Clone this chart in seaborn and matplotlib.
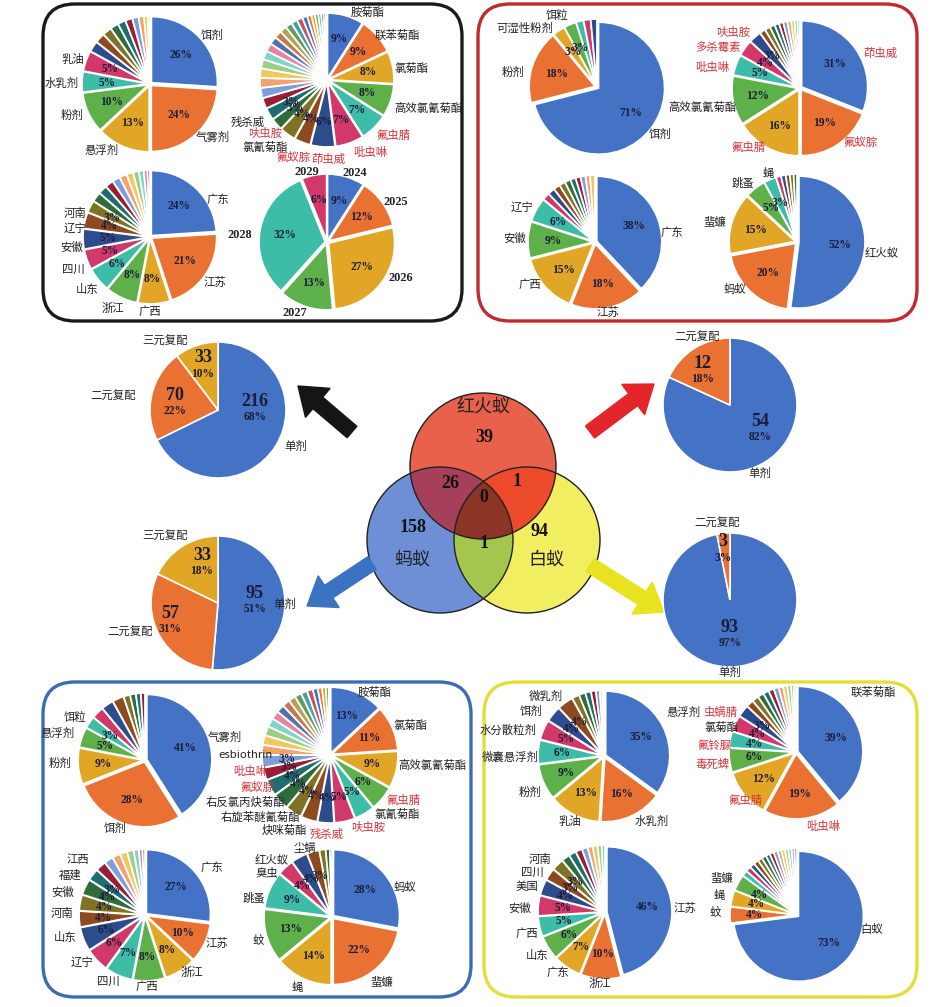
import numpy as np
import matplotlib.pyplot as plt
import seaborn as sns
from matplotlib.colors import to_rgba
from matplotlib.patches import FancyBboxPatch, Circle, FancyArrow

sns.set_style("white")
plt.rcParams['font.family'] = ['Noto Sans CJK SC', 'DejaVu Sans']

# ---------------- data ----------------
# black box (all products)
bk_form_names = ['饵剂', '气雾剂', '悬浮剂', '粉剂', '水乳剂', '乳油']
bk_form_vals = [26, 24, 13, 10, 5, 5]
bk_form_rest = [2.6, 2.4, 2.2, 2.0, 1.9, 1.7, 1.5, 1.3, 0.9, 0.5]

bk_ai_names = ['胺菊酯', '联苯菊酯', '氯菊酯', '高效氯氰菊酯', '氟虫腈', '吡虫啉', '茚虫威',
               '氟蚁腙', '氯氰菊酯', '呋虫胺', '残杀威']
bk_ai_vals = [9, 9, 8, 8, 7, 7, 6, 4, 4, 3, 3]
bk_ai_rest = [2.6, 2.5, 2.4, 2.3, 2.2, 2.1, 2.0, 1.9, 1.8, 1.7, 1.6, 1.5, 1.4, 1.2,
              1.0, 0.9, 0.8, 0.7, 0.6, 0.5, 0.3]
bk_ai_red = ['氟虫腈', '吡虫啉', '茚虫威', '氟蚁腙', '呋虫胺']

bk_prov_names = ['广东', '江苏', '广西', '浙江', '山东', '四川', '安徽', '辽宁', '河南']
bk_prov_vals = [24, 21, 8, 8, 6, 5, 5, 4, 3]
bk_prov_rest = [2.4, 2.2, 2.0, 1.9, 1.8, 1.6, 1.4, 1.2, 0.9, 0.6]

bk_year_names = ['2024', '2025', '2026', '2027', '2028', '2029']
bk_year_vals = [9, 12, 27, 13, 32, 6]

# red box (红火蚁)
rd_form_names = ['饵剂', '粉剂', '可湿性粉剂', '饵粒']
rd_form_vals = [71, 18, 3, 3]
rd_form_rest = [1.8, 1.7, 1.5]

rd_ai_names = ['茚虫威', '氟蚁腙', '氟虫腈', '高效氯氰菊酯', '吡虫啉', '多杀霉素', '呋虫胺']
rd_ai_vals = [31, 19, 16, 12, 5, 4, 3]
rd_ai_rest = [1.4, 1.3, 1.2, 1.1, 1.0, 1.0, 0.9, 0.8, 0.7, 0.6]
rd_ai_red = ['茚虫威', '氟蚁腙', '氟虫腈', '吡虫啉', '多杀霉素', '呋虫胺']

rd_prov_names = ['广东', '江苏', '广西', '安徽', '辽宁']
rd_prov_vals = [38, 18, 15, 9, 6]
rd_prov_rest = [1.8, 1.7, 1.6, 1.5, 1.4, 1.3, 1.2, 1.2, 1.1, 1.2]

rd_tgt_names = ['红火蚁', '蚂蚁', '蜚蠊', '跳蚤', '蝇']
rd_tgt_vals = [52, 20, 15, 5, 3]
rd_tgt_rest = [1.2, 1.1, 1.0, 0.9, 0.8]

# blue box (蚂蚁)
bl_form_names = ['气雾剂', '饵剂', '粉剂', '悬浮剂', '饵粒']
bl_form_vals = [41, 28, 9, 5, 3]
bl_form_rest = [3.0, 3.0, 2.8, 1.6, 1.4, 1.2, 1.0]

bl_ai_names = ['胺菊酯', '氯菊酯', '高效氯氰菊酯', '氟虫腈', '氯氰菊酯', '呋虫胺', '残杀威',
               '炔咪菊酯', '右旋苯醚氰菊酯', '右反氯丙炔菊酯', '氟蚁腙', '吡虫啉', 'esbiothrin']
bl_ai_vals = [13, 11, 9, 6, 5, 5, 4, 4, 4, 4, 4, 3, 3]
bl_ai_rest = [2.4, 2.3, 2.2, 2.1, 2.0, 1.9, 1.8, 1.7, 1.6, 1.5, 1.4, 1.2, 1.0, 0.9, 0.7, 0.3]
bl_ai_red = ['氟虫腈', '呋虫胺', '残杀威', '氟蚁腙', '吡虫啉']

bl_prov_names = ['广东', '江苏', '浙江', '广西', '四川', '辽宁', '山东', '河南', '安徽', '福建', '江西']
bl_prov_vals = [27, 10, 8, 8, 7, 6, 6, 4, 4, 4, 3]
bl_prov_rest = [2.6, 2.2, 2.0, 1.8, 1.6, 1.3, 0.9, 0.6]

bl_tgt_names = ['蚂蚁', '蜚蠊', '蝇', '蚊', '跳蚤', '臭虫', '红火蚁', '尘螨']
bl_tgt_vals = [28, 22, 14, 13, 9, 4, 4, 3]
bl_tgt_rest = [1.5, 1.0, 0.5]

# yellow box (白蚁)
yl_form_names = ['悬浮剂', '水乳剂', '乳油', '粉剂', '微囊悬浮剂', '水分散粒剂', '饵剂', '微乳剂']
yl_form_vals = [35, 16, 13, 9, 6, 5, 4, 4]
yl_form_rest = [1.8, 1.6, 1.4, 1.2, 1.0, 0.6, 0.4]

yl_ai_names = ['联苯菊酯', '吡虫啉', '氟虫腈', '毒死蜱', '氟铃脲', '氯菊酯', '虫螨腈']
yl_ai_vals = [39, 19, 12, 6, 4, 4, 3]
yl_ai_rest = [1.8, 1.6, 1.5, 1.4, 1.3, 1.2, 1.1, 1.0, 0.9, 0.7, 0.5]
yl_ai_red = ['吡虫啉', '氟虫腈', '毒死蜱', '氟铃脲', '虫螨腈']

yl_prov_names = ['江苏', '浙江', '广东', '山东', '广西', '安徽', '美国', '四川', '河南']
yl_prov_vals = [46, 10, 7, 6, 5, 5, 4, 3, 3]
yl_prov_rest = [2.0, 1.8, 1.6, 1.4, 1.2, 1.2, 1.0, 0.8]

yl_tgt_names = ['白蚁', '蚊', '蝇', '蜚蠊']
yl_tgt_vals = [73, 4, 4, 4]
yl_tgt_rest = [1.4, 1.3, 1.2, 1.2, 1.1, 1.1, 1.0, 1.0, 1.0, 0.9, 0.9, 0.8, 0.8, 0.7, 0.6]

# compound type pies (counts)
mix_names = ['单剂', '二元复配', '三元复配']
all_mix = [216, 70, 33]
rifa_mix = [54, 12]
ant_mix = [95, 57, 33]
termite_mix = [93, 3]

# venn counts
venn_names = ['红火蚁', '蚂蚁', '白蚁']
venn_only = [39, 158, 94]
venn_rifa_ant, venn_rifa_termite, venn_ant_termite, venn_all = 26, 1, 1, 0

# ---------------- layout ----------------
W, H = 953, 1007
fig = plt.figure(figsize=(W / 100, H / 100), dpi=100)
bg = fig.add_axes([0, 0, 1, 1], zorder=-1)
top = fig.add_axes([0, 0, 1, 1], zorder=5)
for a in (bg, top):
    a.set_xlim(0, W)
    a.set_ylim(H, 0)
    a.axis('off')

palette = sns.color_palette(['#4472C4', '#E97132', '#E1A626', '#5DB04A', '#3DBDA8', '#D2386A',
                             '#2D4C8E', '#8E4A1F', '#807224', '#2F6C3B', '#1E6E70', '#9B1E37',
                             '#7D9ED9', '#F2A26D', '#F0C85E', '#9CCF86', '#7FD6C7', '#E784A5',
                             '#5670AA', '#C27B4B', '#B3A257', '#5F9B60', '#4BA1A1', '#C15169'])

NUM = dict(family='Liberation Serif', weight='bold')
RED = '#D8343A'
TXT = '#222222'
PCT = '#1c1c38'
LFS = 8.2


def draw_pie(cx, cy, r, vals, rest, names, name_xy, red=(), pct_d=0.62, num_names=False):
    allv = list(vals) + list(rest)
    k = 1.5
    ax = fig.add_axes([(cx - k * r) / W, 1 - (cy + k * r) / H, 2 * k * r / W, 2 * k * r / H])
    cols = [palette[i % len(palette)] for i in range(len(allv))]
    wedges, _ = ax.pie(allv, colors=cols, startangle=90, counterclock=False,
                       explode=[0.03] * len(allv),
                       wedgeprops=dict(edgecolor='white', linewidth=1.2))
    ax.set_xlim(-k, k)
    ax.set_ylim(-k, k)
    tot = sum(allv)
    for w, v in zip(wedges, vals):
        a = np.deg2rad((w.theta1 + w.theta2) / 2)
        ax.text((pct_d + 0.03) * np.cos(a), (pct_d + 0.03) * np.sin(a), f'{v / tot * 100:.0f}%',
                ha='center', va='center', fontsize=8.3, color=PCT, **NUM)
    for n, (x, y) in zip(names, name_xy):
        if num_names:
            top.text(x, y, n, ha='center', va='center', fontsize=8.8, color=TXT, **NUM)
        else:
            top.text(x, y, n, ha='center', va='center', fontsize=LFS,
                     color=RED if n in red else TXT)
    return ax


def draw_mix(cx, cy, r, counts, names, num_xy, name_xy):
    ax = fig.add_axes([(cx - 1.5 * r) / W, 1 - (cy + 1.5 * r) / H, 3 * r / W, 3 * r / H])
    ax.pie(counts, colors=palette[:len(counts)], startangle=90, counterclock=False,
           wedgeprops=dict(edgecolor='white', linewidth=1.2))
    ax.set_xlim(-1.5, 1.5)
    ax.set_ylim(-1.5, 1.5)
    tot = sum(counts)
    for c, n, (x, y), (lx, ly) in zip(counts, names, num_xy, name_xy):
        top.text(x, y - 7, str(c), ha='center', va='center', fontsize=13, color=PCT, **NUM)
        top.text(x, y + 9, f'{c / tot * 100:.0f}%', ha='center', va='center', fontsize=8.3,
                 color=PCT, **NUM)
        top.text(lx, ly, n, ha='center', va='center', fontsize=LFS, color=TXT)
    return ax


# boxes
for (x0, y0, x1, y1), ec in [((43, 4, 462, 321), '#1a1a1a'), ((478, 4, 917, 321), '#C2282E'),
                             ((43, 682, 471, 997), '#3C6BB5'), ((484, 682, 917, 997), '#E4DE3A')]:
    bg.add_patch(FancyBboxPatch((x0, y0), x1 - x0, y1 - y0,
                                boxstyle='round,pad=0,rounding_size=32',
                                fc='none', ec=ec, lw=2.4, zorder=1))

# black box pies
draw_pie(150, 84, 66, bk_form_vals, bk_form_rest, bk_form_names,
         [(212, 35), (213, 137), (102, 150), (72, 115), (62, 83), (73, 60)])
draw_pie(327, 80, 65, bk_ai_vals, bk_ai_rest, bk_ai_names,
         [(368, 12), (397, 35), (411, 68), (428, 108), (393, 135), (370, 152), (328, 159),
          (293, 157), (265, 147), (265, 133), (248, 122)], red=bk_ai_red)
draw_pie(150, 237, 65, bk_prov_vals, bk_prov_rest, bk_prov_names,
         [(218, 200), (215, 282), (150, 312), (113, 308), (87, 290), (73, 270), (72, 247),
          (75, 228), (75, 213)])
draw_pie(327, 242, 66, bk_year_vals, [], bk_year_names,
         [(355, 173), (396, 202), (401, 278), (295, 313), (240, 235), (307, 172)],
         num_names=True)

# red box pies
draw_pie(597, 87, 66, rd_form_vals, rd_form_rest, rd_form_names,
         [(660, 134), (513, 72), (525, 28), (557, 15)])
draw_pie(800, 88, 66, rd_ai_vals, rd_ai_rest, rd_ai_names,
         [(880, 53), (860, 142), (748, 147), (702, 107), (712, 67), (718, 47), (733, 32)],
         red=rd_ai_red)
draw_pie(595, 242, 65, rd_prov_vals, rd_prov_rest, rd_prov_names,
         [(672, 233), (608, 312), (530, 285), (515, 238), (522, 207)])
draw_pie(797, 242, 66, rd_tgt_vals, rd_tgt_rest, rd_tgt_names,
         [(882, 253), (735, 290), (715, 222), (743, 183), (768, 173)])

# blue box pies
draw_pie(145, 760, 65, bl_form_vals, bl_form_rest, bl_form_names,
         [(225, 737), (115, 828), (60, 763), (58, 733), (75, 717)])
draw_pie(330, 755, 66, bl_ai_vals, bl_ai_rest, bl_ai_names,
         [(375, 692), (410, 725), (432, 765), (403, 800), (397, 814), (368, 827), (327, 834),
          (284, 830), (260, 817), (245, 802), (257, 787), (250, 771), (246, 755)], red=bl_ai_red)
draw_pie(145, 915, 64, bl_prov_vals, bl_prov_rest, bl_prov_names,
         [(212, 868), (217, 943), (192, 972), (147, 987), (108, 982), (82, 962), (65, 937),
          (62, 913), (63, 892), (70, 875), (78, 860)])
draw_pie(332, 917, 66, bl_tgt_vals, bl_tgt_rest, bl_tgt_names,
         [(405, 888), (382, 982), (297, 987), (258, 940), (254, 898), (267, 873), (272, 860),
          (305, 848)])

# yellow box pies
draw_pie(604, 756, 64, yl_form_vals, yl_form_rest, yl_form_names,
         [(684, 712), (652, 821), (570, 822), (530, 792), (510, 757), (508, 730), (531, 711),
          (546, 696)])
draw_pie(796, 752, 65, yl_ai_vals, yl_ai_rest, yl_ai_names,
         [(873, 692), (823, 826), (745, 800), (713, 764), (714, 745), (721, 727), (720, 712)],
         red=yl_ai_red)
draw_pie(605, 912, 65, yl_prov_vals, yl_prov_rest, yl_prov_names,
         [(685, 908), (600, 983), (558, 973), (537, 955), (527, 934), (520, 908), (527, 887),
          (532, 873), (540, 860)])
draw_pie(797, 915, 65, yl_tgt_vals, yl_tgt_rest, yl_tgt_names,
         [(872, 930), (715, 912), (719, 895), (722, 878)])

# compound-type pies
draw_mix(218, 410, 68, all_mix, mix_names, [(255, 408), (175, 402), (203, 365)],
         [(296, 446), (113, 396), (165, 341)])
draw_mix(730, 405, 67, rifa_mix, mix_names[:2], [(760, 428), (703, 370)],
         [(760, 473), (697, 337)])
draw_mix(218, 603, 67, ant_mix, mix_names, [(255, 600), (170, 620), (202, 562)],
         [(285, 604), (130, 632), (165, 536)])
draw_mix(730, 600, 67, termite_mix, mix_names[:2], [(730, 634), (723, 549)],
         [(730, 672), (717, 523)])

# venn
cr, cb, cy_ = (483, 466), (440, 540), (527, 540)
rad = 73
gx = np.linspace(355, 615, 780)
gy = np.linspace(385, 620, 705)
X, Y = np.meshgrid(gx, gy)
inR = (X - cr[0]) ** 2 + (Y - cr[1]) ** 2 <= rad ** 2
inB = (X - cb[0]) ** 2 + (Y - cb[1]) ** 2 <= rad ** 2
inY = (X - cy_[0]) ** 2 + (Y - cy_[1]) ** 2 <= rad ** 2
img = np.zeros(X.shape + (4,))
img[inR & ~inB & ~inY] = to_rgba('#E9614B')
img[inB & ~inR & ~inY] = to_rgba('#6E8FD6')
img[inY & ~inR & ~inB] = to_rgba('#F3EF62')
img[inR & inB & ~inY] = to_rgba('#A63F5A')
img[inR & inY & ~inB] = to_rgba('#EC4A2C')
img[inB & inY & ~inR] = to_rgba('#A4C54E')
img[inR & inB & inY] = to_rgba('#8C3526')
bg.imshow(img, extent=(355, 615, 620, 385), origin='upper', aspect='auto', zorder=2)
bg.set_xlim(0, W)
bg.set_ylim(H, 0)
for c in (cr, cb, cy_):
    bg.add_patch(Circle(c, rad, fill=False, ec='#222222', lw=1.0, zorder=3))

top.text(483, 407, venn_names[0], ha='center', va='center', fontsize=13, color=TXT)
top.text(412, 560, venn_names[1], ha='center', va='center', fontsize=13, color=TXT)
top.text(546, 560, venn_names[2], ha='center', va='center', fontsize=13, color=TXT)
for v, (x, y) in zip(venn_only + [venn_rifa_ant, venn_rifa_termite, venn_ant_termite, venn_all],
                     [(484, 437), (413, 527), (540, 532), (450, 483), (517, 482), (484, 543),
                      (484, 497)]):
    top.text(x, y, str(v), ha='center', va='center', fontsize=13, color='#111111', **NUM)

# arrows
for (x0, y0, x1, y1), col in [((352, 432, 298, 386), '#151515'), ((590, 432, 654, 384), '#E3262B'),
                              ((372, 563, 307, 606), '#3B73C2'), ((590, 565, 664, 612), '#E9E21F')]:
    bg.add_patch(FancyArrow(x0, y0, x1 - x0, y1 - y0, width=15, head_width=38, head_length=26,
                            length_includes_head=True, color=col, zorder=3))

fig.savefig('out.png', dpi=100)
